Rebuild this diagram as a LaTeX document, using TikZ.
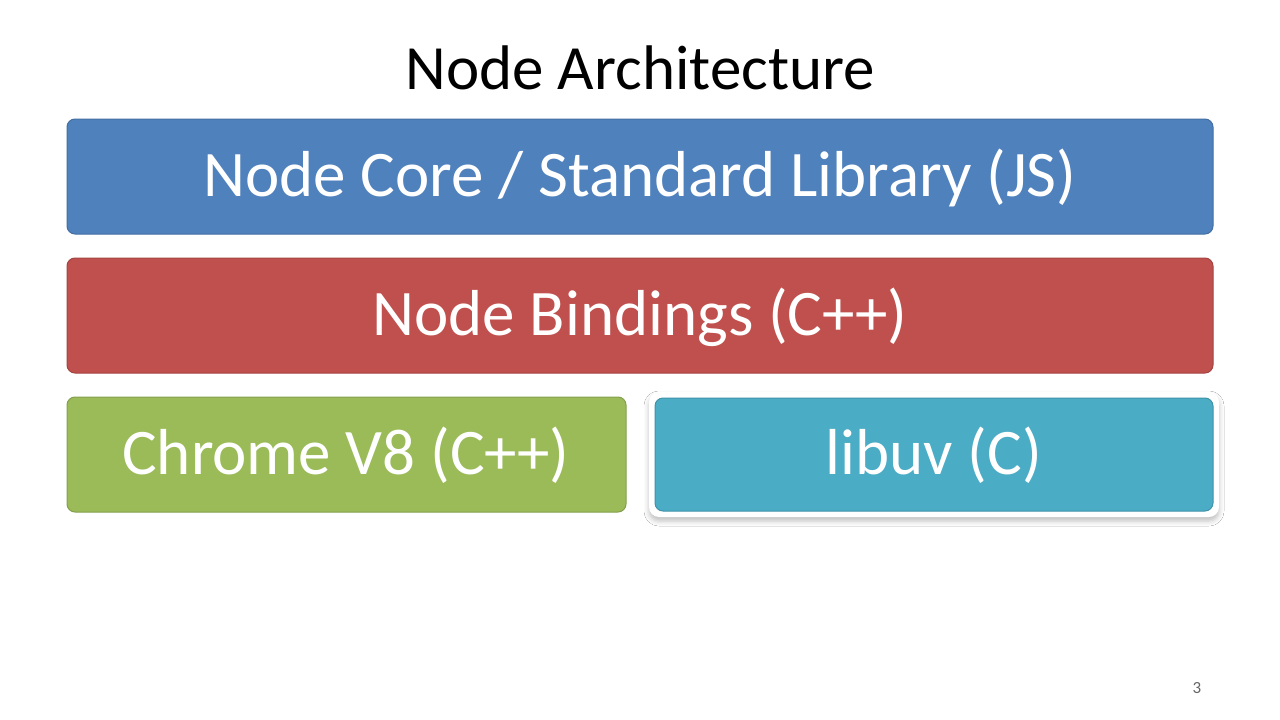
\documentclass[tikz,border=0pt]{standalone}
\usepackage{fontspec}
\setmainfont{Carlito}
\usetikzlibrary{shadows.blur}
\definecolor{cblue}{HTML}{4F81BD}
\definecolor{cred}{HTML}{C0504D}
\definecolor{cgreen}{HTML}{9BBB59}
\definecolor{caqua}{HTML}{4BACC6}
\tikzset{
  layer/.style={rounded corners=8pt, line width=1pt},
  layertext/.style={anchor=base, text=white, font=\fontsize{65}{78}\selectfont},
}
\begin{document}
\begin{tikzpicture}[x=1pt,y=-1pt]
\useasboundingbox[fill=white] (0,0) rectangle (1280,720);
\node[anchor=base, font=\fontsize{63}{76}\selectfont] (title) at (640,89) {Node Architecture};
% top layer
\draw[layer, fill=cblue, draw=cblue!85!black] (67,119) rectangle (1213,234);
\node[layertext] (core) at (640,196) {Node Core / Standard Library (JS)};
% bindings
\draw[layer, fill=cred, draw=cred!85!black] (67,258) rectangle (1213,373);
\node[layertext] (bind) at (640,335) {Node Bindings (C++)};
% v8
\draw[layer, fill=cgreen, draw=cgreen!85!black] (67,397) rectangle (626,512);
\node[layertext] (v8) at (346,474) {Chrome V8 (C++)};
% libuv
\fill[rounded corners=10pt, white, blur shadow={shadow xshift=0pt, shadow yshift=-4pt, shadow blur radius=5pt, shadow opacity=25}] (649,392) rectangle (1219,517);
\draw[layer, fill=caqua, draw=caqua!85!black] (655,398) rectangle (1213,511);
\node[layertext] (uv) at (934,474) {libuv (C)};
% page number
\node[anchor=base, text=black!60, font=\fontsize{17}{20}\selectfont] (pg) at (1197,693) {3};
\end{tikzpicture}
\end{document}
